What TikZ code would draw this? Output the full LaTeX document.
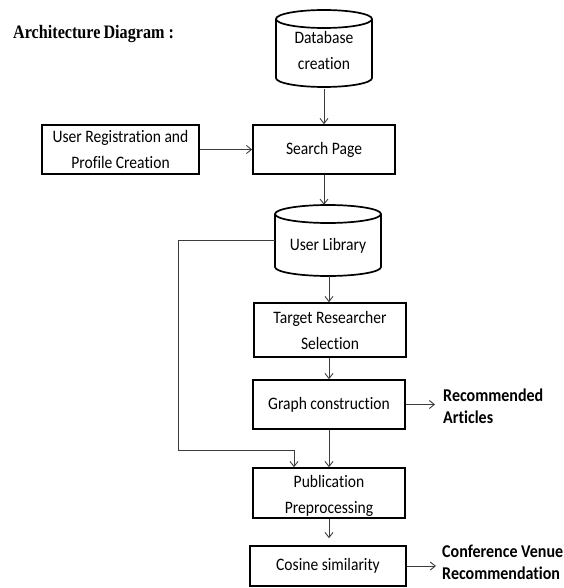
\documentclass[tikz,border=0pt]{standalone}
\usepackage{fontspec}
\setmainfont{Carlito}[FakeStretch=0.89, Ligatures=NoCommon]
\newfontfamily\titlefont{Liberation Serif}[FakeStretch=0.85]
\usetikzlibrary{arrows.meta,calc}
\definecolor{conncol}{RGB}{60,60,60}
\tikzset{
  box/.style={draw=black, line width=1.7pt, rectangle, inner sep=0pt, align=center,
              font=\fontsize{17.5}{26}\selectfont},
  cyltext/.style={rectangle, inner sep=0pt, align=center, font=\fontsize{17.5}{26}\selectfont},
  cylline/.style={draw=black, line width=1.7pt},
  conn/.style={draw=conncol, line width=0.9pt, -{Straight Barb[length=5pt,width=8pt]}},
  outlabel/.style={inner sep=0pt, anchor=west, align=left, font=\fontsize{18}{22}\selectfont\bfseries},
}
\begin{document}
\begin{tikzpicture}[x=1pt,y=-1pt]
\useasboundingbox (0,0) rectangle (563,588);

% title
\node[anchor=base west, inner sep=0pt, font=\titlefont\fontsize{19}{20}\selectfont\bfseries] (title) at (13,39) {Architecture\hspace{-1pt} Diagram :};

% Database cylinder
\node[cyltext, minimum width=96pt, minimum height=77pt] (db) at (324,50) {Database\\creation};
\draw[cylline] (324,19) ellipse [x radius=48pt, y radius=9pt];
\draw[cylline] (276,19) -- (276,78) arc[start angle=180, end angle=360, x radius=48pt, y radius=9pt] -- (372,19);

% boxes
\node[box, minimum width=157pt, minimum height=49pt] (ur) at (120.5,149.5) {User Registration and\\Profile Creation};
\node[box, minimum width=142pt, minimum height=49pt] (sp) at (324,149.5) {Search Page};

% User Library cylinder
\node[cyltext, minimum width=106pt, minimum height=71pt,
      label={[cyltext, yshift=-5pt]center:User Library}] (ul) at (328,240.5) {};
\draw[cylline] (328,214) ellipse [x radius=53pt, y radius=9pt];
\draw[cylline] (275,214) -- (275,267) arc[start angle=180, end angle=360, x radius=53pt, y radius=9pt] -- (381,214);

\node[box, minimum width=152pt, minimum height=54pt] (trs) at (330,330) {Target Researcher\\Selection};
\node[box, minimum width=152pt, minimum height=49pt] (gc) at (329,404.5) {Graph construction};
\node[box, minimum width=152pt, minimum height=50pt,
      label={[cyltext, yshift=-3pt]center:Publication\\Preprocessing}] (pp) at (329,493) {};
\node[box, minimum width=156pt, minimum height=40pt] (cs) at (328,566) {Cosine similarity};

% output labels
\node[outlabel] (rec) at (443,406) {Recommended\\Articles};
\node[outlabel] (conf) at (442,562) {Conference Venue\\Recommendation};

% connectors
\draw[conn] (db.south) -- (db.south |- sp.north);
\draw[conn] (ur.east) -- (sp.west);
\draw[conn] (sp.south) -- (sp.south |- ul.north);
\draw[conn] ([xshift=1pt]ul.south) -- ([xshift=1pt]ul.south |- trs.north);
\draw[conn] ([xshift=-1pt]trs.south) -- ([xshift=-1pt]trs.south |- gc.north);
\draw[conn] (gc.south) -- (pp.north);
\draw[conn, shorten >=7pt] (pp.south) -- (pp.south |- cs.north);
\coordinate (fb) at (178,450);
\draw[conn] (ul.west) -| (fb) -| ([xshift=-35pt]pp.north);
\draw[conn, shorten >=8pt] (gc.east) -- (rec.west |- gc.east);
\draw[conn, shorten >=6pt] (cs.east) -- (conf.west |- cs.east);
\end{tikzpicture}
\end{document}
